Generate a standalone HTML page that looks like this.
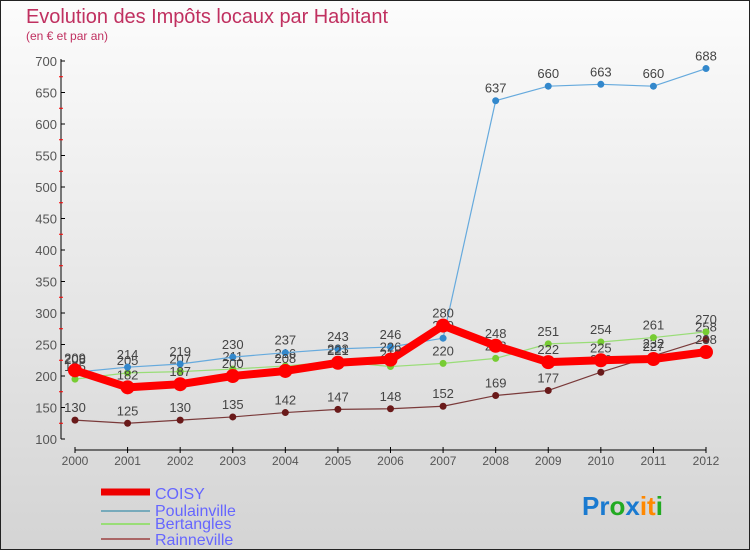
<!DOCTYPE html>
<html><head><meta charset="utf-8"><style>
body{margin:0}
#c{width:750px;height:550px;position:relative;background:linear-gradient(#fcfcfc,#d4d4d4);box-sizing:border-box;border:1px solid #222;overflow:hidden;font-family:"Liberation Sans",sans-serif}
</style></head><body>
<div id="c">
<svg id="s" width="750" height="550" style="position:absolute;left:-1px;top:-1px">
<text x="26" y="23" font-size="20" fill="#c03060" textLength="362">Evolution des Impôts locaux par Habitant</text>
<text x="26" y="40" font-size="12" fill="#c03060">(en € et par an)</text>
<g id="axes"></g><g id="series"></g>
<g>
<line x1="101" y1="492" x2="150" y2="492" stroke="#e00" stroke-width="7"/><text x="155" y="499" font-size="16" fill="#66f">COISY</text>
<line x1="101" y1="511" x2="150" y2="511" stroke="#7ab" stroke-width="2"/><text x="155" y="516" font-size="16" fill="#66f">Poulainville</text>
<line x1="101" y1="524" x2="150" y2="524" stroke="#9d7" stroke-width="2"/><text x="155" y="529" font-size="16" fill="#66f">Bertangles</text>
<line x1="101" y1="539" x2="150" y2="539" stroke="#a66" stroke-width="2"/><text x="155" y="545" font-size="16" fill="#66f">Rainneville</text>
</g>
<text x="582" y="515" font-size="26" font-weight="bold"><tspan fill="#1a7ad0">Pr</tspan><tspan fill="#2a2">o</tspan><tspan fill="#1a7ad0">x</tspan><tspan fill="#f80">it</tspan><tspan fill="#2a2">i</tspan></text>
</svg>
</div>
<script>
const years=[2000,2001,2002,2003,2004,2005,2006,2007,2008,2009,2010,2011,2012];
const yTicks=[100,150,200,250,300,350,400,450,500,550,600,650,700];
const coisy=[209,182,187,200,208,221,226,280,248,222,225,227,238];
const poulainville=[206,214,219,230,237,243,246,260,637,660,663,660,688];
const bertangles=[195,205,207,211,216,223,215,220,228,251,254,261,270];
const rainneville=[130,125,130,135,142,147,148,152,169,177,206,232,258];
const NS="http://www.w3.org/2000/svg";
const X=i=>75+i*(706-75)/12;
const Y=v=>439-(v-100)*(439-61)/600;
function mk(t,a,p){const e=document.createElementNS(NS,t);for(const k in a)e.setAttribute(k,a[k]);p.appendChild(e);return e;}
const ax=document.getElementById('axes');
const yl=mk('line',{x1:61,y1:59,x2:61,y2:439,stroke:'#000'},ax);


const xl=mk('line',{x1:75,y1:450,x2:706,y2:450,stroke:'#000'},ax);


yTicks.forEach((v,i)=>{
 mk('line',{x1:61,y1:Y(v),x2:65,y2:Y(v),stroke:'#000'},ax);
 if(i<yTicks.length-1)mk('line',{x1:59,y1:Y(v+25),x2:63,y2:Y(v+25),stroke:'#f00'},ax);
 const t=mk('text',{x:57,y:Y(v)+5,'text-anchor':'end','font-size':13,fill:'#555'},ax);
 t.textContent=v;
 
 
});
years.forEach((y,i)=>{
 mk('line',{x1:X(i),y1:447,x2:X(i),y2:453,stroke:'#000'},ax);
 const t=mk('text',{x:X(i),y:465,'text-anchor':'middle','font-size':12,fill:'#555'},ax);
 t.textContent=y;
 
 
});
const sg=document.getElementById('series');
function series(d,name,col,dot,w,r){
 const g=mk('g',{},sg);
 
 
 const p=mk('polyline',{points:d.map((v,i)=>X(i)+','+Y(v)).join(' '),fill:'none',stroke:col,'stroke-width':w,'stroke-linejoin':'round'},g);
 
 
 d.forEach((v,i)=>{
  const c=mk('circle',{cx:X(i),cy:Y(v),r:r,fill:dot},g);
  
  
  const t=mk('text',{x:X(i),y:Y(v)-8,'text-anchor':'middle','font-size':13,fill:'#444'},g);
  t.textContent=v;
  
  
 });
}
series(rainneville,'rainneville','#7a3a3a','#6a1a1a',1.2,3.5);
series(bertangles,'bertangles','#9d7','#7c3',1.2,3.5);
series(poulainville,'poulainville','#6ad','#38c',1.2,3.5);
series(coisy,'coisy','#f00','#f00',8,7);
</script>
</body></html>
